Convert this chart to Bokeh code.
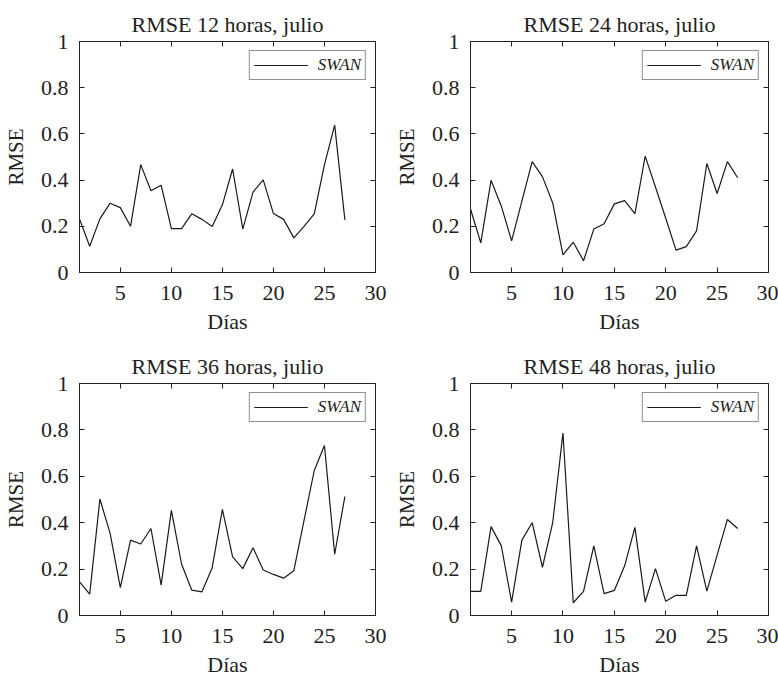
from bokeh.embed import file_html
from bokeh.resources import INLINE
from bokeh.plotting import figure
from bokeh.layouts import column, row
from bokeh.models import Range1d, FixedTicker, LinearAxis, CustomJSTickFormatter

# days of July and RMSE per forecast horizon
days = list(range(1, 28))
rmse_12 = [0.232, 0.114, 0.232, 0.300, 0.281, 0.200, 0.467, 0.354, 0.378, 0.190,
           0.190, 0.254, 0.230, 0.199, 0.293, 0.448, 0.188, 0.348, 0.401, 0.255,
           0.230, 0.150, 0.200, 0.254, 0.467, 0.638, 0.228]
rmse_24 = [0.275, 0.128, 0.399, 0.287, 0.137, 0.309, 0.480, 0.415, 0.301, 0.076,
           0.131, 0.051, 0.188, 0.211, 0.297, 0.311, 0.255, 0.504, 0.370, 0.235,
           0.097, 0.112, 0.180, 0.472, 0.342, 0.480, 0.410]
rmse_36 = [0.145, 0.092, 0.502, 0.354, 0.120, 0.325, 0.308, 0.375, 0.131, 0.453,
           0.222, 0.109, 0.102, 0.206, 0.457, 0.253, 0.202, 0.292, 0.196, 0.177,
           0.161, 0.193, 0.410, 0.625, 0.733, 0.264, 0.513]
rmse_48 = [0.104, 0.104, 0.383, 0.300, 0.058, 0.325, 0.400, 0.208, 0.400, 0.787,
           0.055, 0.104, 0.300, 0.094, 0.108, 0.214, 0.380, 0.058, 0.202, 0.061,
           0.087, 0.087, 0.300, 0.105, 0.260, 0.414, 0.375]

titles = ["RMSE 12 horas, julio", "RMSE 24 horas, julio",
          "RMSE 36 horas, julio", "RMSE 48 horas, julio"]
x_ticks = [5, 10, 15, 20, 25, 30]
y_ticks = [0, 0.2, 0.4, 0.6, 0.8, 1]
series_name = "SWAN"

FONT = "Liberation Serif"
INK = "#222222"


def make_panel(title, values, width, height, bl, br, bt, bb):
    p = figure(width=width, height=height, title=title,
               x_range=Range1d(1, 30), y_range=Range1d(0, 1),
               output_backend="svg", toolbar_location=None,
               min_border_left=bl, min_border_right=br,
               min_border_top=bt, min_border_bottom=bb)
    p.line(days, values, line_color="#1a1a1a", line_width=1.2,
           legend_label=series_name)

    p.title.text_font = FONT
    p.title.text_font_style = "normal"
    p.title.text_font_size = "22px"
    p.title.text_color = INK
    p.title.align = "center"
    p.title.standoff = 10

    p.grid.visible = False
    p.outline_line_color = INK
    p.outline_line_width = 1
    p.background_fill_color = "white"
    p.border_fill_color = "white"

    fmt = CustomJSTickFormatter(code="return String(Math.round(tick * 10) / 10);")
    p.xaxis.ticker = FixedTicker(ticks=x_ticks)
    p.yaxis.ticker = FixedTicker(ticks=y_ticks)
    p.yaxis.formatter = fmt
    p.xaxis.axis_label = "Días"
    p.yaxis.axis_label = "RMSE"
    for ax in (p.xaxis[0], p.yaxis[0]):
        ax.axis_line_color = INK
        ax.major_tick_line_color = INK
        ax.major_tick_in = 5
        ax.major_tick_out = 0
        ax.minor_tick_line_color = None
        ax.major_label_text_font = FONT
        ax.major_label_text_font_size = "22px"
        ax.major_label_text_color = INK
        ax.axis_label_text_font = FONT
        ax.axis_label_text_font_style = "normal"
        ax.axis_label_text_color = INK
    p.xaxis.major_label_standoff = 13
    p.yaxis.major_label_standoff = 11
    p.xaxis.axis_label_text_font_size = "22px"
    p.xaxis.axis_label_standoff = 6
    p.yaxis.axis_label_text_font_size = "21px"
    p.yaxis.axis_label_standoff = 10

    # box ticks on top and right, labels not drawn
    for side, ticks in (("above", x_ticks), ("right", y_ticks)):
        ax = LinearAxis(ticker=FixedTicker(ticks=ticks),
                        major_label_text_font_size="1px",
                        major_label_text_color=None,
                        major_label_standoff=0,
                        axis_line_color=None,
                        major_tick_line_color=INK,
                        major_tick_in=5, major_tick_out=0,
                        minor_tick_line_color=None)
        p.add_layout(ax, side)

    lg = p.legend[0]
    lg.location = "top_right"
    lg.margin = 9
    lg.padding = 4
    lg.glyph_width = 54
    lg.glyph_height = 18
    lg.label_height = 18
    lg.label_standoff = 10
    lg.label_text_font = FONT
    lg.label_text_font_style = "italic"
    lg.label_text_font_size = "17px"
    lg.label_text_color = INK
    lg.border_line_color = INK
    lg.border_line_width = 1
    lg.background_fill_alpha = 1
    return p


p1 = make_panel(titles[0], rmse_12, 389, 340, 77, 14, 41, 68)
p2 = make_panel(titles[1], rmse_24, 389, 340, 81, 10, 41, 68)
p3 = make_panel(titles[2], rmse_36, 389, 339, 77, 14, 43, 64)
p4 = make_panel(titles[3], rmse_48, 389, 339, 81, 10, 43, 64)

layout = column(row(p1, p2), row(p3, p4))

open("out.html", "w").write(file_html(layout, INLINE))
